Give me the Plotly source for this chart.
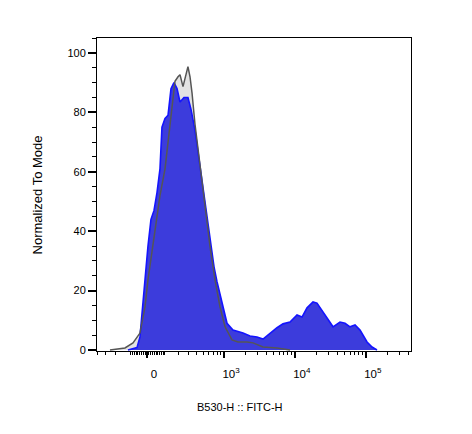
import numpy as np
import plotly.graph_objects as go

# Biexponential-like display scale (decades); data x values are on this display scale
C_LIN = 82.8


def biex(v):
    return np.arcsinh(np.asarray(v, dtype=float) / (2 * C_LIN)) / np.log(10)


# Blue (sample) histogram, x on display scale, y = % of mode
blue_x = [-0.268, -0.141, -0.099, -0.056, -0.028, 0.014, 0.056, 0.099, 0.141, 0.183,
          0.211, 0.254, 0.296, 0.338, 0.380, 0.423, 0.465, 0.521, 0.577, 0.620,
          0.676, 0.746, 0.817, 0.887, 0.944, 0.986, 1.056, 1.127, 1.211, 1.352,
          1.451, 1.549, 1.634, 1.732, 1.831, 1.915, 2.014, 2.113, 2.183, 2.254,
          2.338, 2.394, 2.479, 2.549, 2.620, 2.718, 2.789, 2.859, 2.930, 3.000,
          3.056, 3.099, 3.169, 3.239]
blue_y = [0, 0.8, 4.4, 16.8, 23.6, 35, 44, 47, 53, 61,
          75, 78, 79, 88, 90, 88, 83.5, 85, 85, 81,
          74, 62, 48, 36, 28, 23, 15.8, 9, 6.7, 5.7,
          4.7, 4.4, 3.7, 5.7, 7.5, 8.8, 9.4, 11.8, 11.1, 14.2,
          16.2, 15.8, 12.8, 10, 7.8, 9.4, 9, 7.8, 8.4, 6.7,
          4.5, 2.7, 1, 0]

# Gray (control) histogram
gray_x = [-0.521, -0.423, -0.310, -0.197, -0.099, -0.028, 0.014, 0.070, 0.127, 0.183,
          0.254, 0.324, 0.366, 0.394, 0.437, 0.465, 0.507, 0.549, 0.577, 0.606,
          0.634, 0.676, 0.746, 0.817, 0.887, 0.958, 1.028, 1.099, 1.197, 1.282,
          1.408, 1.493, 1.563, 1.634, 1.831, 2.014]
gray_y = [0, 0.3, 0.7, 2.4, 5.7, 14.5, 23.6, 33, 43, 52,
          61, 76.5, 85, 90.5, 92, 92.7, 88.7, 93, 95.4, 92,
          86.6, 76, 62, 48, 35, 23.6, 14.5, 7.8, 3.4, 2.7,
          2.7, 2.4, 1.8, 1.0, 0.7, 0]

major_vals = [0, 1e3, 1e4, 1e5]
major_text = ["0", "10<sup>3</sup>", "10<sup>4</sup>", "10<sup>5</sup>"]

minor_vals = ([-m * 10 for m in range(1, 10)] + [-m * 100 for m in range(2, 5)] +
              [m * 10 for m in range(1, 10)] + [m * 100 for m in range(1, 10)] +
              [m * 1000 for m in range(2, 10)] + [m * 10000 for m in range(2, 10)] +
              [m * 100000 for m in range(2, 5)])

FONT = "Liberation Sans, Arial, sans-serif"

fig = go.Figure()
fig.add_trace(go.Scatter(x=gray_x, y=gray_y, mode="lines", fill="tozeroy",
                         fillcolor="#e3e3e3", line=dict(width=0, color="#e3e3e3"),
                         hoverinfo="skip", showlegend=False))
fig.add_trace(go.Scatter(x=blue_x, y=blue_y, mode="lines", fill="tozeroy",
                         fillcolor="#3c3cdc", line=dict(width=1.6, color="#1414ff"),
                         showlegend=False))
fig.add_trace(go.Scatter(x=gray_x, y=gray_y, mode="lines",
                         line=dict(width=1.5, color="#555555"), showlegend=False))

fig.update_layout(
    width=464, height=426,
    margin=dict(l=89, r=61, t=30, b=83),
    paper_bgcolor="white", plot_bgcolor="white",
    font=dict(family=FONT, size=11, color="black"),
    xaxis=dict(
        range=[-0.704, 3.718], showgrid=False, zeroline=False,
        showline=True, linecolor="black", linewidth=1, mirror=True,
        tickmode="array", tickvals=list(biex(major_vals)), ticktext=major_text,
        ticks="outside", ticklen=6, tickwidth=2, tickcolor="black",
        ticklabelshift=7, ticklabelstandoff=6,
        minor=dict(tickmode="array", tickvals=list(biex(minor_vals)),
                   ticks="outside", ticklen=3, tickwidth=1, tickcolor="black"),
        tickfont=dict(size=11.5, color="black"),
    ),
    yaxis=dict(
        range=[-0.34, 105.05], showgrid=False, zeroline=False,
        showline=True, linecolor="black", linewidth=1, mirror=True,
        tickmode="linear", tick0=0, dtick=20,
        ticks="outside", ticklen=8, tickwidth=2, tickcolor="black",
        minor=dict(dtick=5, ticks="outside", ticklen=4, tickwidth=1, tickcolor="black"),
        tickfont=dict(size=11, color="black"),
    ),
    annotations=[
        dict(text="B530-H :: FITC-H", xref="paper", yref="paper",
             x=0.455, y=-0.179, showarrow=False, font=dict(size=11),
             xanchor="center", yanchor="middle"),
        dict(text="Normalized To Mode", xref="paper", yref="paper",
             x=-0.188, y=0.5, showarrow=False, textangle=-90, font=dict(size=13),
             xanchor="center", yanchor="middle"),
    ],
)

fig.write_html("out.html")
